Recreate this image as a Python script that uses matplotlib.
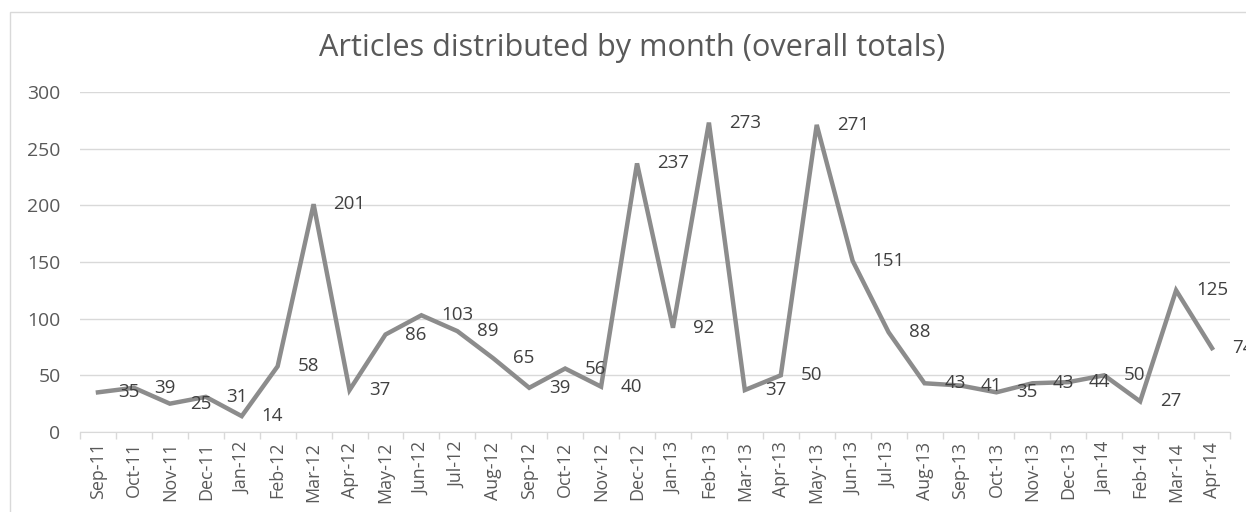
import numpy as np
import matplotlib.pyplot as plt
from matplotlib.patches import Rectangle

# donnees
months = ['Sep-11', 'Oct-11', 'Nov-11', 'Dec-11', 'Jan-12', 'Feb-12', 'Mar-12', 'Apr-12',
          'May-12', 'Jun-12', 'Jul-12', 'Aug-12', 'Sep-12', 'Oct-12', 'Nov-12', 'Dec-12',
          'Jan-13', 'Feb-13', 'Mar-13', 'Apr-13', 'May-13', 'Jun-13', 'Jul-13', 'Aug-13',
          'Sep-13', 'Oct-13', 'Nov-13', 'Dec-13', 'Jan-14', 'Feb-14', 'Mar-14', 'Apr-14']
articles = [35, 39, 25, 31, 14, 58, 201, 37, 86, 103, 89, 65, 39, 56, 40, 237,
            92, 273, 37, 50, 271, 151, 88, 43, 41, 35, 43, 44, 50, 27, 125, 74]
yticks = [0, 50, 100, 150, 200, 250, 300]

plt.rcParams['font.family'] = ['Open Sans', 'DejaVu Sans']

W, H = 1246, 512
fig = plt.figure(figsize=(W / 100, H / 100), dpi=100)
fig.patch.set_facecolor('white')

# cadre du graphique
fig.patches.append(Rectangle((10 / W, -0.1), 1.2, 1 - 12 / H + 0.1, transform=fig.transFigure,
                             fill=False, edgecolor='#d9d9d9', linewidth=1))

ax = fig.add_axes([80 / W, 1 - 432 / H, (1230 - 80) / W, (432 - 92) / H])
x = np.arange(len(months))
ax.plot(x, articles, color='#8c8c8c', linewidth=3.2, solid_joinstyle='miter', zorder=3)

labels = []
for xi, v in zip(x, articles):
    t = ax.annotate(str(v), (xi, v), xytext=(20, 0), textcoords='offset pixels',
                    ha='left', va='center', fontsize=13, color='#404040', zorder=4,
                    annotation_clip=False)
    labels.append(t)

ax.set_xlim(-0.5, len(months) - 0.5)
ax.set_ylim(0, 300)
ax.set_yticks(yticks)
ax.set_yticklabels([str(t) for t in yticks], fontsize=13, color='#595959')
ax.tick_params(axis='y', length=0, pad=14)
ax.set_xticks(x)
ax.set_xticklabels(months, rotation=90, fontsize=13, color='#595959')
ax.set_xticks(np.arange(len(months) + 1) - 0.5, minor=True)
ax.tick_params(axis='x', which='major', length=0, pad=7)
ax.tick_params(axis='x', which='minor', length=5, color='#d9d9d9', width=1)

ax.grid(axis='y', color='#d9d9d9', linewidth=1)
ax.set_axisbelow(True)
for s in ['top', 'right', 'left']:
    ax.spines[s].set_visible(False)
ax.spines['bottom'].set_color('#d9d9d9')

title = fig.text(632 / W, 1 - 48 / H, 'Articles distributed by month (overall totals)',
                 ha='center', va='center', fontsize=19, color='#595959')

# ajuster les tailles de police sur les mesures du modele (pixels)
fig.canvas.draw()
r = fig.canvas.get_renderer()
def scale(ref_text, target, vertical=False):
    bb = ref_text.get_window_extent(r)
    size = bb.height if vertical else bb.width
    return ref_text.get_fontsize() * target / size

s_title = scale(title, 625)
s_y = scale(ax.get_yticklabels()[-1], 33)
s_x = scale(ax.get_xticklabels()[0], 57, vertical=True)
s_lab = scale(labels[6], 32)
title.set_fontsize(s_title)
for t in ax.get_yticklabels():
    t.set_fontsize(s_y)
for t in ax.get_xticklabels():
    t.set_fontsize(s_x)
for t in labels:
    t.set_fontsize(s_lab)

fig.savefig('out.png', dpi=100)
